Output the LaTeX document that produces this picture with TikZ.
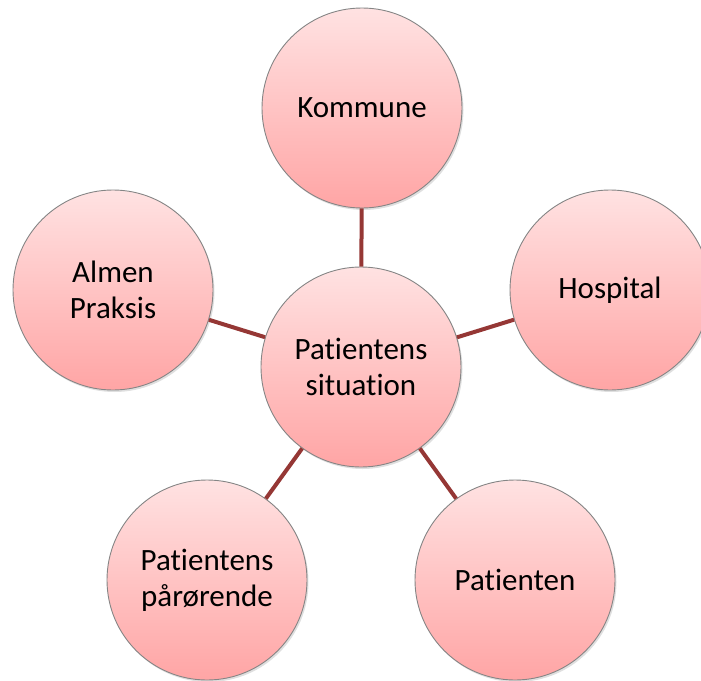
\documentclass[tikz,border=0pt]{standalone}
\usepackage{fontspec}
\setmainfont[Ligatures={NoCommon,NoContextual}]{Carlito}
\usetikzlibrary{shadows}
\definecolor{linkred}{HTML}{953735}
\definecolor{topfill}{HTML}{FFE2E2}
\definecolor{botfill}{HTML}{FFA5A5}
\definecolor{rimgray}{HTML}{858585}
\tikzset{
  bubble/.style={circle, minimum size=200pt, inner sep=0pt, align=center,
    top color=topfill, bottom color=botfill, draw=rimgray, line width=0.9pt,
    drop shadow={shadow xshift=1.5pt, shadow yshift=-2pt, opacity=0.25},
    font=\fontsize{31}{36}\selectfont, text=black},
  link/.style={draw=linkred, line width=4pt}
}
\begin{document}
\begin{tikzpicture}[x=1pt,y=-1pt]
\useasboundingbox (0,0) rectangle (701,680);
\node[bubble] (kom) at (362,108) {Kommune};
\node[bubble] (hos) at (610,290) {Hospital};
\node[bubble] (alm) at (113,290) {Almen\\Praksis};
\node[bubble] (pto) at (515,580) {Patienten};
\node[bubble] (par) at (207,580) {Patientens\\pårørende};
\node[bubble] (sit) at (361,367) {Patientens\\situation};
\draw[link] (sit) -- (kom);
\draw[link] (sit) -- (hos);
\draw[link] (sit) -- (alm);
\draw[link] (sit) -- (pto);
\draw[link] (sit) -- (par);
\end{tikzpicture}
\end{document}
